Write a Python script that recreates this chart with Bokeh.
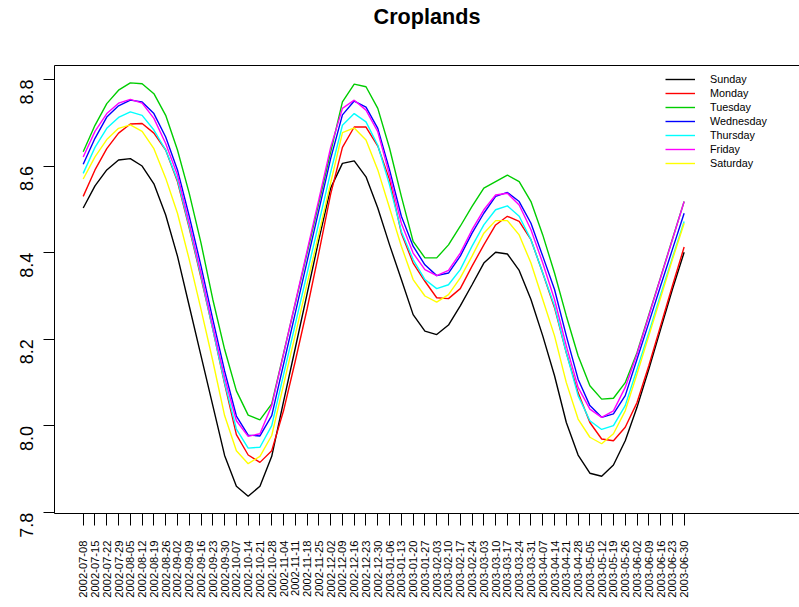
import math
from bokeh.plotting import figure
from bokeh.models import (Range1d, FixedTicker, LinearAxis, Legend, LegendItem,
                          PrintfTickFormatter, Title)
from bokeh.embed import file_html
from bokeh.resources import INLINE

dates = ["2002-07-08", "2002-07-15", "2002-07-22", "2002-07-29", "2002-08-05", "2002-08-12",
         "2002-08-19", "2002-08-26", "2002-09-02", "2002-09-09", "2002-09-16", "2002-09-23",
         "2002-09-30", "2002-10-07", "2002-10-14", "2002-10-21", "2002-10-28", "2002-11-04",
         "2002-11-11", "2002-11-18", "2002-11-25", "2002-12-02", "2002-12-09", "2002-12-16",
         "2002-12-23", "2002-12-30", "2003-01-06", "2003-01-13", "2003-01-20", "2003-01-27",
         "2003-02-03", "2003-02-10", "2003-02-17", "2003-02-24", "2003-03-03", "2003-03-10",
         "2003-03-17", "2003-03-24", "2003-03-31", "2003-04-07", "2003-04-14", "2003-04-21",
         "2003-04-28", "2003-05-05", "2003-05-12", "2003-05-19", "2003-05-26", "2003-06-02",
         "2003-06-09", "2003-06-16", "2003-06-23", "2003-06-30"]

sunday = [8.503, 8.554, 8.591, 8.614, 8.617, 8.600, 8.559, 8.487, 8.392, 8.277,
          8.162, 8.047, 7.932, 7.861, 7.838, 7.861, 7.930, 8.056, 8.180, 8.305,
          8.430, 8.549, 8.606, 8.612, 8.575, 8.503, 8.418, 8.338, 8.257, 8.219,
          8.211, 8.233, 8.277, 8.326, 8.376, 8.401, 8.397, 8.359, 8.292, 8.208,
          8.116, 8.008, 7.933, 7.891, 7.884, 7.910, 7.966, 8.043, 8.131, 8.223,
          8.315, 8.401]
monday = [8.530, 8.591, 8.640, 8.676, 8.697, 8.698, 8.676, 8.637, 8.564, 8.457,
          8.342, 8.223, 8.097, 7.980, 7.933, 7.916, 7.943, 8.035, 8.150, 8.270,
          8.400, 8.535, 8.643, 8.690, 8.690, 8.646, 8.568, 8.445, 8.376, 8.334,
          8.296, 8.294, 8.317, 8.369, 8.418, 8.464, 8.484, 8.472, 8.430, 8.353,
          8.273, 8.169, 8.077, 8.008, 7.970, 7.966, 7.997, 8.054, 8.139, 8.231,
          8.323, 8.413]
tuesday = [8.633, 8.694, 8.744, 8.775, 8.792, 8.790, 8.767, 8.717, 8.637, 8.537,
           8.422, 8.292, 8.177, 8.081, 8.025, 8.014, 8.051, 8.167, 8.283, 8.399,
           8.515, 8.632, 8.748, 8.789, 8.783, 8.733, 8.641, 8.530, 8.426, 8.388,
           8.388, 8.418, 8.461, 8.507, 8.549, 8.564, 8.579, 8.564, 8.518, 8.441,
           8.353, 8.254, 8.162, 8.093, 8.062, 8.064, 8.100, 8.169, 8.256, 8.343,
           8.431, 8.518]
wednesday = [8.604, 8.664, 8.713, 8.739, 8.752, 8.748, 8.721, 8.667, 8.591, 8.484,
             8.369, 8.246, 8.127, 8.023, 7.979, 7.977, 8.024, 8.142, 8.261, 8.380,
             8.498, 8.617, 8.718, 8.750, 8.736, 8.687, 8.591, 8.484, 8.415, 8.372,
             8.347, 8.353, 8.392, 8.445, 8.491, 8.530, 8.539, 8.518, 8.468, 8.392,
             8.315, 8.208, 8.108, 8.047, 8.020, 8.028, 8.070, 8.154, 8.238, 8.323,
             8.407, 8.491]
thursday = [8.583, 8.643, 8.687, 8.712, 8.725, 8.717, 8.683, 8.637, 8.568, 8.460,
            8.346, 8.223, 8.100, 7.993, 7.949, 7.951, 8.001, 8.118, 8.235, 8.352,
            8.469, 8.586, 8.694, 8.721, 8.702, 8.648, 8.556, 8.449, 8.384, 8.338,
            8.317, 8.326, 8.361, 8.415, 8.464, 8.499, 8.508, 8.484, 8.430, 8.353,
            8.277, 8.169, 8.070, 8.012, 7.992, 8.001, 8.047, 8.131, 8.215, 8.303,
            8.388, 8.472]
friday = [8.621, 8.680, 8.721, 8.745, 8.754, 8.745, 8.710, 8.652, 8.579, 8.468,
          8.353, 8.230, 8.112, 8.012, 7.976, 7.982, 8.047, 8.166, 8.285, 8.404,
          8.523, 8.643, 8.733, 8.752, 8.729, 8.679, 8.579, 8.468, 8.399, 8.361,
          8.347, 8.359, 8.399, 8.453, 8.499, 8.533, 8.537, 8.510, 8.453, 8.376,
          8.292, 8.185, 8.089, 8.039, 8.020, 8.035, 8.089, 8.166, 8.254, 8.342,
          8.430, 8.518]
saturday = [8.570, 8.621, 8.661, 8.687, 8.695, 8.680, 8.640, 8.572, 8.491, 8.384,
            8.269, 8.150, 8.024, 7.943, 7.913, 7.930, 7.978, 8.095, 8.211, 8.328,
            8.444, 8.561, 8.677, 8.688, 8.660, 8.591, 8.503, 8.415, 8.338, 8.300,
            8.286, 8.303, 8.342, 8.392, 8.445, 8.474, 8.474, 8.441, 8.376, 8.292,
            8.208, 8.100, 8.016, 7.974, 7.959, 7.982, 8.035, 8.120, 8.208, 8.296,
            8.384, 8.468]

series_names = ["Sunday", "Monday", "Tuesday", "Wednesday", "Thursday", "Friday", "Saturday"]
series_values = [sunday, monday, tuesday, wednesday, thursday, friday, saturday]
series_colors = ["#000000", "#FF0000", "#00CD00", "#0000FF", "#00FFFF", "#FF00FF", "#FFFF00"]
y_ticks = [7.8, 8.0, 8.2, 8.4, 8.6, 8.8]
title_text = "Croplands"

FONT = "Liberation Sans"
x = list(range(1, len(dates) + 1))

p = figure(width=799, height=600, output_backend="svg", toolbar_location=None,
           x_range=Range1d(-1.436, 61.79), y_range=Range1d(7.798, 8.832),
           min_border_left=54, min_border_right=0, min_border_top=65, min_border_bottom=85,
           x_axis_location=None, y_axis_location=None)
p.outline_line_color = None
p.grid.visible = False
p.background_fill_color = "white"
p.border_fill_color = "white"

# bottom axis with date labels
xa = LinearAxis(ticker=FixedTicker(ticks=x),
                major_label_overrides={i: d for i, d in zip(x, dates)})
xa.major_label_orientation = math.pi / 2
xa.major_label_text_font = FONT
xa.major_label_text_font_size = "11.2px"
xa.major_label_text_color = "black"
xa.major_tick_out = 12
xa.major_tick_in = 0
xa.minor_tick_out = 0
xa.minor_tick_in = 0
xa.major_label_standoff = 15
xa.axis_line_color = "black"
xa.major_tick_line_color = "black"
p.add_layout(xa, "below")

# left axis
ya = LinearAxis(ticker=FixedTicker(ticks=y_ticks), formatter=PrintfTickFormatter(format="%.1f"))
ya.major_label_orientation = math.pi / 2
ya.major_label_text_font = FONT
ya.major_label_text_font_size = "18px"
ya.major_label_text_color = "black"
ya.major_tick_out = 11
ya.major_tick_in = 0
ya.minor_tick_out = 0
ya.minor_tick_in = 0
ya.major_label_standoff = 17
ya.axis_line_color = "black"
ya.major_tick_line_color = "black"
p.add_layout(ya, "left")

# top frame line
ta = LinearAxis(ticker=FixedTicker(ticks=[]))
ta.major_label_text_font_size = "0px"
ta.major_tick_out = 0
ta.major_tick_in = 0
ta.minor_tick_out = 0
ta.minor_tick_in = 0
ta.major_label_standoff = 0
ta.axis_line_color = "black"
p.add_layout(ta, "above")

# empty spacer between frame and title, then the title itself
p.add_layout(Title(text=" ", text_font_size="1px", standoff=34), "above")
p.add_layout(Title(text=title_text, align="center", offset=2, standoff=0,
                   text_font=FONT, text_font_size="21.6px", text_font_style="bold",
                   text_color="black"), "above")

items = []
for name, vals, col in zip(series_names, series_values, series_colors):
    r = p.line(x, vals, line_color=col, line_width=1.4)
    items.append(LegendItem(label=name, renderers=[r]))

legend = Legend(items=items, location=(611, 344))
legend.label_text_font = FONT
legend.label_text_font_size = "10.8px"
legend.label_text_color = "black"
legend.glyph_width = 30
legend.glyph_height = 12
legend.label_height = 12
legend.label_standoff = 15
legend.spacing = 2
legend.padding = 0
legend.margin = 0
legend.border_line_alpha = 0
legend.background_fill_alpha = 0
p.add_layout(legend)

open("out.html", "w").write(file_html(p, INLINE))
